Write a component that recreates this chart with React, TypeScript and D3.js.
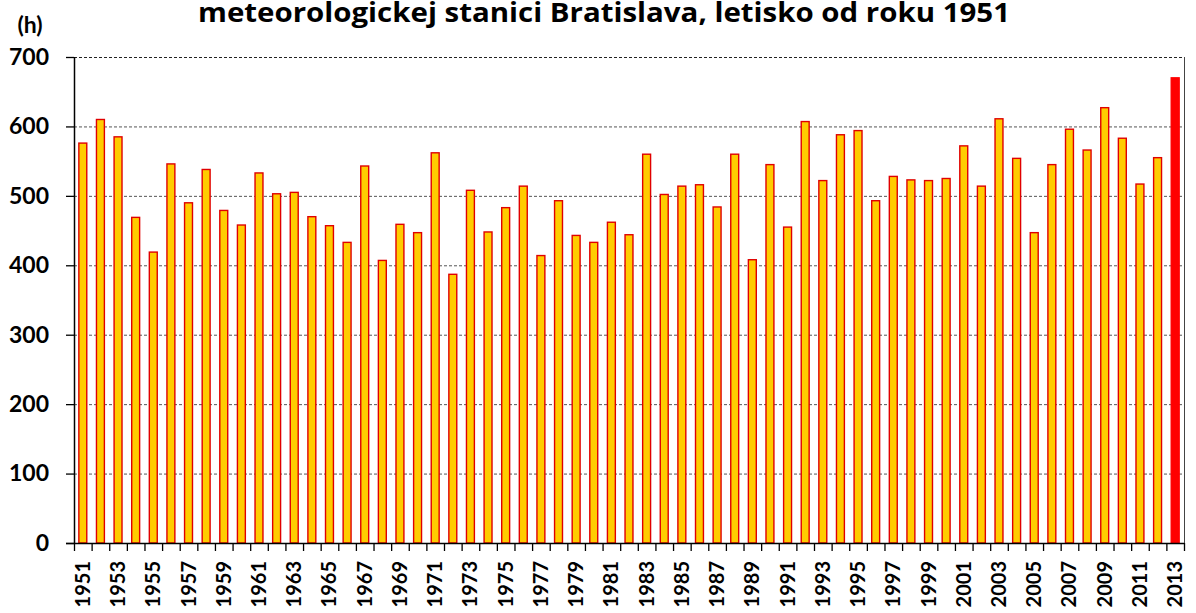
import React, { useEffect, useRef } from 'react';
import * as d3 from 'd3';

const years = [
  1951, 1952, 1953, 1954, 1955, 1956, 1957, 1958, 1959, 1960,
  1961, 1962, 1963, 1964, 1965, 1966, 1967, 1968, 1969, 1970,
  1971, 1972, 1973, 1974, 1975, 1976, 1977, 1978, 1979, 1980,
  1981, 1982, 1983, 1984, 1985, 1986, 1987, 1988, 1989, 1990,
  1991, 1992, 1993, 1994, 1995, 1996, 1997, 1998, 1999, 2000,
  2001, 2002, 2003, 2004, 2005, 2006, 2007, 2008, 2009, 2010,
  2011, 2012, 2013,
];

// sunshine hours per year
const hours = [
  576, 610, 585, 469, 419, 546, 490, 538, 479, 458,
  533, 503, 505, 470, 457, 433, 543, 407, 459, 447,
  562, 387, 508, 448, 483, 514, 414, 493, 443, 433,
  462, 444, 560, 502, 514, 516, 484, 560, 408, 545,
  455, 607, 522, 588, 594, 493, 528, 523, 522, 525,
  572, 514, 611, 554, 447, 545, 596, 566, 627, 583,
  517, 555, 670,
];

const yTicks = [0, 100, 200, 300, 400, 500, 600, 700];
const highlightYear = 2013;

const title = 'meteorologickej stanici Bratislava, letisko od roku 1951';
const unitLabel = '(h)';

const FONT = 'Lato, "Open Sans", sans-serif';
const TITLE_FONT = '"Open Sans", Lato, sans-serif';

export default function App() {
  const svgRef = useRef<SVGSVGElement>(null);

  useEffect(() => {
    if (!svgRef.current) return;
    const width = 1196;
    const height = 613;
    const margin = { top: 57, right: 12, bottom: 70, left: 74 };
    const innerW = 1184 - margin.left;
    const innerH = 543 - margin.top;

    const root = d3.select(svgRef.current);
    root.selectAll('*').remove();
    root.attr('width', width).attr('height', height);

    root.append('rect').attr('width', width).attr('height', height).attr('fill', '#fff');

    // title (second line of the original heading, stretched like the source)
    root
      .append('text')
      .attr('x', 198)
      .attr('y', 22)
      .attr('textLength', 812)
      .attr('lengthAdjust', 'spacingAndGlyphs')
      .attr('font-family', TITLE_FONT)
      .attr('font-weight', 'bold')
      .attr('font-size', 26)
      .attr('fill', '#000')
      .text(title);

    root
      .append('text')
      .attr('x', 30)
      .attr('y', 33)
      .attr('text-anchor', 'middle')
      .attr('font-family', FONT)
      .attr('font-weight', 'bold')
      .attr('font-size', 23)
      .attr('fill', '#000')
      .text(unitLabel);

    const g = root.append('g').attr('transform', `translate(${margin.left},${margin.top})`);

    const x = d3.scaleBand<number>().domain(years).range([0, innerW]).paddingInner(0.55).paddingOuter(0.275);
    const y = d3.scaleLinear().domain([0, 700]).range([innerH, 0]);

    // gridlines
    g.selectAll('.grid')
      .data(yTicks.filter((t) => t > 0))
      .enter()
      .append('line')
      .attr('x1', 0)
      .attr('x2', innerW)
      .attr('y1', (d) => y(d) + 0.5)
      .attr('y2', (d) => y(d) + 0.5)
      .attr('stroke', (d) => (d === 700 ? '#222' : '#555'))
      .attr('stroke-width', 1)
      .attr('stroke-dasharray', '3,2');

    // right border
    g.append('line')
      .attr('x1', innerW + 0.5)
      .attr('x2', innerW + 0.5)
      .attr('y1', 0)
      .attr('y2', innerH)
      .attr('stroke', '#444')
      .attr('stroke-width', 1);

    // bars
    g.selectAll('.bar')
      .data(years)
      .enter()
      .append('rect')
      .attr('x', (d) => x(d)!)
      .attr('width', x.bandwidth())
      .attr('y', (d, i) => y(hours[i]))
      .attr('height', (d, i) => innerH - y(hours[i]))
      .attr('fill', (d) => (d === highlightYear ? '#ff0000' : '#ffcc00'))
      .attr('stroke', (d) => (d === highlightYear ? '#ff0000' : '#e00000'))
      .attr('stroke-width', 1.4);

    // y axis
    const yAxis = g
      .append('g')
      .call(d3.axisLeft(y).tickValues(yTicks).tickSize(8).tickPadding(17).tickFormat(d3.format('d')));
    yAxis.select('.domain').attr('stroke', '#000').attr('stroke-width', 1.5).attr('d', `M0.5,0V${innerH}`);
    yAxis.selectAll('.tick line').attr('stroke', '#000').attr('stroke-width', 1.3);
    yAxis
      .selectAll('.tick text')
      .attr('font-family', FONT)
      .attr('font-weight', 'bold')
      .attr('font-size', 23)
      .attr('fill', '#000');

    // x axis: baseline and ticks at band boundaries
    const step = x.step();
    const xa = g.append('g').attr('transform', `translate(0,${innerH})`);
    xa.append('line').attr('x1', -8).attr('x2', innerW).attr('y1', 0.5).attr('y2', 0.5).attr('stroke', '#000').attr('stroke-width', 1.5);
    xa.selectAll('.xt')
      .data(years.concat([years[years.length - 1] + 1]))
      .enter()
      .append('line')
      .attr('x1', (d, i) => i * step + 0.5)
      .attr('x2', (d, i) => i * step + 0.5)
      .attr('y1', 0)
      .attr('y2', 8)
      .attr('stroke', '#000')
      .attr('stroke-width', 1.3);

    xa.selectAll('.xl')
      .data(years.filter((d) => (d - years[0]) % 2 === 0))
      .enter()
      .append('text')
      .attr('transform', (d) => `translate(${x(d)! + x.bandwidth() / 2 + 7},${18}) rotate(-90)`)
      .attr('text-anchor', 'end')
      .attr('font-family', FONT)
      .attr('font-weight', 'bold')
      .attr('font-size', 20)
      .attr('fill', '#000')
      .text((d) => String(d));
  }, []);

  return <svg ref={svgRef} style={{ position: 'absolute', left: 0, top: 0, display: 'block' }} />;
}
